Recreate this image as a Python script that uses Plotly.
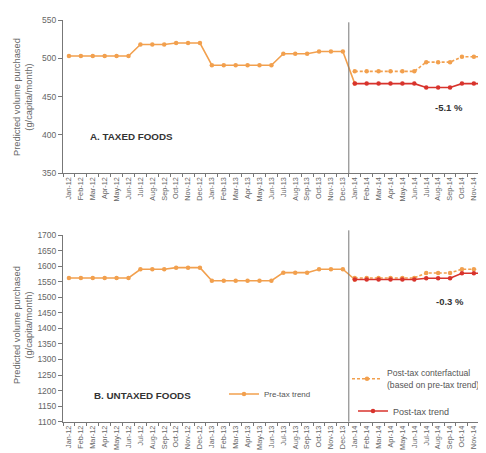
import plotly.graph_objects as go

months = [f"{m}-{y}" for y in ("12", "13", "14") for m in
          ("Jan", "Feb", "Mar", "Apr", "May", "Jun", "Jul", "Aug", "Sep", "Oct", "Nov", "Dec")]

# Panel A: taxed foods (Jan-12 .. Dec-13, then link to Jan-14)
taxed_pre = [503, 503, 503, 503, 503, 503, 518, 518, 518, 520, 520, 520,
             491, 491, 491, 491, 491, 491, 506, 506, 506, 509, 509, 509, 467]
taxed_counter = [483, 483, 483, 483, 483, 483, 495, 495, 495, 502, 502, 502]
taxed_post = [467, 467, 467, 467, 467, 467, 462, 462, 462, 467, 467, 467]

# Panel B: untaxed foods
untaxed_pre = [1562, 1562, 1562, 1562, 1562, 1562, 1590, 1590, 1590, 1595, 1595, 1595,
               1553, 1553, 1553, 1553, 1553, 1553, 1579, 1579, 1579, 1590, 1590, 1590, 1557]
untaxed_counter = [1562, 1562, 1562, 1562, 1562, 1562, 1578, 1578, 1578, 1590, 1590, 1590]
untaxed_post = [1557, 1557, 1557, 1557, 1557, 1557, 1561, 1561, 1561, 1577, 1577, 1577]

ORANGE = "#F2A04E"
RED = "#D8332C"
GRAY = "#777777"
FONT = "Liberation Sans"

# page body has an 8px margin: figure origin sits at (8, 8) of the window
OFF = 8
W, H = 486 - OFF, 453 - OFF


def xp(px):
    return (px - OFF) / W


def yp(py):
    return 1 - (py - OFF) / H


fig = go.Figure()


def add_panel(xa, ya, pre, counter, post, show):
    fig.add_trace(go.Scatter(x=months[:len(pre)], y=pre, xaxis=xa, yaxis=ya, mode="lines+markers",
                             line=dict(color=ORANGE, width=1.6), marker=dict(size=4.5, color=ORANGE),
                             name="Pre-tax trend", showlegend=show, legend="legend"))
    fig.add_trace(go.Scatter(x=months[24:], y=counter, xaxis=xa, yaxis=ya, mode="lines+markers",
                             line=dict(color=ORANGE, width=1.6, dash="3px,2px"),
                             marker=dict(size=4.5, color=ORANGE),
                             name="Post-tax conterfactual<br>(based on pre-tax trend)", showlegend=show,
                             legend="legend2"))
    fig.add_trace(go.Scatter(x=months[24:], y=post, xaxis=xa, yaxis=ya, mode="lines+markers",
                             line=dict(color=RED, width=1.6), marker=dict(size=4.5, color=RED),
                             name="Post-tax trend", showlegend=show, legend="legend3"))


add_panel("x", "y", taxed_pre, taxed_counter, taxed_post, False)
add_panel("x2", "y2", untaxed_pre, untaxed_counter, untaxed_post, True)

xcommon = dict(type="category", categoryorder="array", categoryarray=months, range=[-0.5, 35.02],
               domain=[xp(63), 1], showline=True, linecolor=GRAY, linewidth=1, ticks="outside",
               tickson="boundaries", ticklen=3, tickcolor=GRAY, tickangle=-90, showgrid=False,
               tickfont=dict(family=FONT, size=7.3, color="#666666"), automargin=False, zeroline=False)
ycommon = dict(showline=True, linecolor=GRAY, linewidth=1, ticks="outside", ticklen=4, tickcolor=GRAY,
               showgrid=False, zeroline=False, tickfont=dict(family=FONT, size=8.5, color="#666666"),
               automargin=False, dtick=50)

legfont_small = dict(family=FONT, size=8, color="#555555")
legfont2 = dict(family=FONT, size=8.6, color="#555555")
legfont3 = dict(family=FONT, size=9, color="#555555")

fig.update_layout(
    width=W, height=H, margin=dict(l=0, r=0, t=0, b=0, autoexpand=False),
    paper_bgcolor="white", plot_bgcolor="white",
    xaxis=dict(xcommon, anchor="y"),
    xaxis2=dict(xcommon, anchor="y2"),
    yaxis=dict(ycommon, anchor="x", range=[350, 550], domain=[yp(173.3), yp(20)]),
    yaxis2=dict(ycommon, anchor="x2", range=[1100, 1700], domain=[yp(421.7), yp(235)]),
    legend=dict(x=xp(224), y=yp(394), xanchor="left", yanchor="middle", bgcolor="rgba(0,0,0,0)",
                font=legfont_small, itemwidth=30),
    legend2=dict(x=xp(347), y=yp(379), xanchor="left", yanchor="middle", bgcolor="rgba(0,0,0,0)",
                 font=legfont2, itemwidth=30),
    legend3=dict(x=xp(353), y=yp(411), xanchor="left", yanchor="middle", bgcolor="rgba(0,0,0,0)",
                 font=legfont3, itemwidth=30),
    showlegend=True,
)

# Vertical separators at tax introduction
fig.add_shape(type="line", xref="x", yref="y domain", x0=23.5, x1=23.5, y0=0, y1=0.985,
              line=dict(color=GRAY, width=1))
fig.add_shape(type="line", xref="x2", yref="y2 domain", x0=23.5, x1=23.5, y0=0, y1=1.025,
              line=dict(color=GRAY, width=1))

ytitle = "Predicted volume purchased<br>(g/capita/month)"
for yc in (97, 325):
    fig.add_annotation(text=ytitle, xref="paper", yref="paper", x=xp(23), y=yp(yc), showarrow=False,
                       textangle=-90, font=dict(family=FONT, size=9.3, color="#666666"),
                       xanchor="center", yanchor="middle")

fig.add_annotation(text="<b>A. TAXED FOODS</b>", xref="paper", yref="paper", x=xp(88), y=yp(136),
                   showarrow=False, xanchor="left", yanchor="middle",
                   font=dict(family=FONT, size=9.8, color="#333333"))
fig.add_annotation(text="B. UNTAXED FOODS", xref="paper", yref="paper", x=xp(92), y=yp(395),
                   showarrow=False, xanchor="left", yanchor="middle",
                   font=dict(family=FONT, size=9.8, color="#333333", weight=600))
fig.add_annotation(text="<b>-5.1 %</b>", xref="paper", yref="paper", x=xp(449), y=yp(107),
                   showarrow=False, xanchor="center", yanchor="middle",
                   font=dict(family=FONT, size=9.5, color="#333333"))
fig.add_annotation(text="<b>-0.3 %</b>", xref="paper", yref="paper", x=xp(450), y=yp(301),
                   showarrow=False, xanchor="center", yanchor="middle",
                   font=dict(family=FONT, size=9.5, color="#333333"))

fig.write_html("out.html")
